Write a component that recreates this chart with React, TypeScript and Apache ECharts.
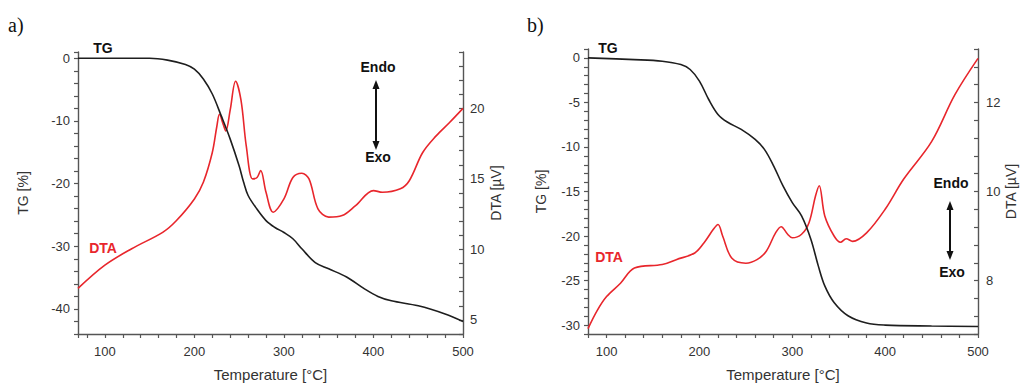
import React, { useEffect, useRef } from "react";
import * as echarts from "echarts";

// Panel a) — TG (left axis, %) and DTA (right axis, µV) vs temperature (°C)
const tempA_TG = [70, 100, 150, 170, 190, 200, 210, 220, 230, 240, 250, 255, 260, 270, 280, 290, 300, 310, 320, 335, 350, 370, 390, 405, 420, 450, 480, 500];
const tgA = [0, 0, 0, -0.3, -1.0, -1.75, -3.3, -5.7, -9.2, -12.9, -17.2, -19.8, -21.9, -24.1, -25.9, -27.0, -27.8, -28.8, -30.4, -32.6, -33.6, -34.9, -36.8, -38.0, -38.7, -39.5, -40.8, -42.0];
const tempA_DTA = [70, 100, 130, 165, 180, 200, 210, 220, 225, 228, 232, 235, 240, 246, 252, 258, 265, 270, 274, 280, 288, 300, 310, 320, 328, 338, 350, 365, 380, 400, 410, 430, 440, 455, 470, 485, 500];
const dtaA = [7.23, 8.88, 10.05, 11.23, 12.05, 13.58, 14.76, 16.87, 18.7, 19.58, 18.9, 18.4, 19.9, 21.93, 20.6, 17.3, 15.0, 15.1, 15.6, 14.05, 12.64, 13.58, 15.1, 15.4, 15.0, 12.88, 12.29, 12.4, 13.1, 14.17, 14.05, 14.3, 14.87, 16.87, 18.05, 19.0, 20.0];

// Panel b)
const tempB_TG = [80, 130, 160, 180, 190, 200, 210, 220, 230, 245, 260, 270, 280, 290, 300, 310, 320, 328, 335, 345, 360, 380, 400, 450, 500];
const tgB = [0, -0.19, -0.37, -0.75, -1.3, -2.6, -4.67, -6.35, -7.2, -8.03, -9.15, -10.27, -12.14, -14.38, -16.25, -17.74, -20.36, -23.35, -25.6, -27.46, -28.95, -29.77, -30.0, -30.1, -30.15];
const tempB_DTA = [80, 90, 100, 115, 130, 160, 175, 195, 205, 215, 220, 225, 235, 250, 262, 272, 282, 288, 295, 300, 310, 318, 325, 329, 335, 345, 352, 358, 365, 380, 400, 420, 450, 475, 500];
const dtaB = [6.92, 7.33, 7.64, 7.94, 8.28, 8.36, 8.47, 8.62, 8.85, 9.15, 9.26, 9.0, 8.5, 8.39, 8.47, 8.66, 9.07, 9.21, 9.04, 8.96, 9.04, 9.3, 9.9, 10.13, 9.45, 9.0, 8.86, 8.94, 8.88, 9.07, 9.6, 10.28, 11.12, 12.17, 12.99];

const xTitle = "Temperature [°C]";
const tgTitle = "TG [%]";
const dtaTitle = "DTA [µV]";

const FONT = "Liberation Sans, Arial, sans-serif";
const AXIS_COLOR = "#555";
const TG_COLOR = "#1e1e1e";
const DTA_COLOR = "#e8262c";

const zip = (xs: number[], ys: number[]) => xs.map((x, i) => [x, ys[i]]);
const isMult = (v: number, m: number) => {
  const r = v / m;
  return Math.abs(r - Math.round(r)) < 1e-6;
};

const axisBase = (labelEvery: number) => ({
  type: "value" as const,
  splitLine: { show: false },
  axisLine: { show: true, onZero: false, lineStyle: { color: AXIS_COLOR, width: 1.4 } },
  axisTick: { show: true, length: 4, lineStyle: { color: AXIS_COLOR, width: 1.2 } },
  axisLabel: {
    color: "#333",
    fontSize: 13,
    fontFamily: FONT,
    formatter: (v: number) => (isMult(v, labelEvery) ? String(Math.round(v)) : ""),
  },
  nameTextStyle: { color: "#333", fontSize: 14, fontFamily: FONT },
});

const arrow = (x: number, y1: number, y2: number) => [
  { type: "line", shape: { x1: x, y1: y1 + 6, x2: x, y2: y2 - 6 }, style: { stroke: "#111", lineWidth: 2 } },
  { type: "polygon", shape: { points: [[x, y1], [x - 3.5, y1 + 9], [x + 3.5, y1 + 9]] }, style: { fill: "#111" } },
  { type: "polygon", shape: { points: [[x, y2], [x - 3.5, y2 - 9], [x + 3.5, y2 - 9]] }, style: { fill: "#111" } },
];

const label = (text: string, x: number, y: number, color = "#111") => ({
  type: "text",
  x,
  y,
  style: { text, fill: color, font: `bold 14px ${FONT}`, textAlign: "center", textVerticalAlign: "middle" },
});

export default function App() {
  const ref = useRef<HTMLDivElement>(null);
  useEffect(() => {
    const chart = echarts.init(ref.current!, null, { renderer: "svg" });
    const option: any = {
      animation: false,
      backgroundColor: "#fff",
      grid: [
        { left: 78, right: 558, top: 52, bottom: 51, containLabel: false, outerBoundsMode: "none" },
        { left: 588, right: 43, top: 49, bottom: 51, containLabel: false, outerBoundsMode: "none" },
      ],
      xAxis: [
        {
          ...axisBase(100),
          gridIndex: 0,
          min: 70,
          max: 500,
          minInterval: 20,
          maxInterval: 20,
          name: xTitle,
          nameLocation: "middle",
          nameGap: 33,
          nameTextStyle: { color: "#333", fontSize: 15, fontFamily: FONT },
          axisLabel: { ...axisBase(100).axisLabel, margin: 11 },
        },
        {
          ...axisBase(100),
          gridIndex: 1,
          min: 80,
          max: 500,
          interval: 20,
          name: xTitle,
          nameLocation: "middle",
          nameGap: 33,
          nameTextStyle: { color: "#333", fontSize: 15, fontFamily: FONT },
          axisLabel: { ...axisBase(100).axisLabel, margin: 11 },
        },
      ],
      yAxis: [
        {
          ...axisBase(10),
          gridIndex: 0,
          position: "left",
          min: -44,
          max: 1,
          interval: 2,
          name: tgTitle,
          nameLocation: "middle",
          nameRotate: 90,
          nameGap: 48,
        },
        {
          ...axisBase(5),
          gridIndex: 0,
          position: "right",
          min: 4,
          max: 24,
          interval: 1,
          name: dtaTitle,
          nameLocation: "middle",
          nameRotate: 90,
          nameGap: 26,
          axisTick: { ...axisBase(5).axisTick, inside: true },
          axisLabel: { ...axisBase(5).axisLabel, margin: 7 },
        },
        {
          ...axisBase(5),
          gridIndex: 1,
          position: "left",
          min: -31,
          max: 1,
          interval: 1,
          name: tgTitle,
          nameLocation: "middle",
          nameRotate: 90,
          nameGap: 40,
        },
        {
          ...axisBase(2),
          gridIndex: 1,
          position: "right",
          min: 6.8,
          max: 13.2,
          interval: 0.4,
          name: dtaTitle,
          nameLocation: "middle",
          nameRotate: 90,
          nameGap: 26,
          axisTick: { ...axisBase(2).axisTick, inside: true },
          axisLabel: { ...axisBase(2).axisLabel, margin: 8 },
        },
      ],
      series: [
        {
          name: "TG a", type: "line", xAxisIndex: 0, yAxisIndex: 0, data: zip(tempA_TG, tgA),
          showSymbol: false, smooth: 0.35, lineStyle: { color: TG_COLOR, width: 1.6 }, z: 3,
        },
        {
          name: "DTA a", type: "line", xAxisIndex: 0, yAxisIndex: 1, data: zip(tempA_DTA, dtaA),
          showSymbol: false, smooth: 0.35, lineStyle: { color: DTA_COLOR, width: 1.6 }, z: 2,
        },
        {
          name: "TG b", type: "line", xAxisIndex: 1, yAxisIndex: 2, data: zip(tempB_TG, tgB),
          showSymbol: false, smooth: 0.35, lineStyle: { color: TG_COLOR, width: 1.6 }, z: 3,
        },
        {
          name: "DTA b", type: "line", xAxisIndex: 1, yAxisIndex: 3, data: zip(tempB_DTA, dtaB),
          showSymbol: false, smooth: 0.35, lineStyle: { color: DTA_COLOR, width: 1.6 }, z: 2,
        },
      ],
      graphic: [
        { type: "text", x: 8, y: 15, style: { text: "a)", fill: "#111", font: "20px Liberation Serif, serif" } },
        { type: "text", x: 527, y: 15, style: { text: "b)", fill: "#111", font: "20px Liberation Serif, serif" } },
        label("TG", 103, 48),
        label("DTA", 103, 248, DTA_COLOR),
        label("Endo", 378, 67),
        label("Exo", 378, 157),
        ...arrow(376, 80, 150),
        label("TG", 608, 48),
        label("DTA", 609, 257, DTA_COLOR),
        label("Endo", 951, 183),
        label("Exo", 952, 272),
        ...arrow(950, 201, 260),
      ],
    };
    chart.setOption(option);
    return () => chart.dispose();
  }, []);
  return (
    <div
      ref={ref}
      style={{ position: "fixed", left: 0, top: 0, width: 1021, height: 385, background: "#fff" }}
    />
  );
}
